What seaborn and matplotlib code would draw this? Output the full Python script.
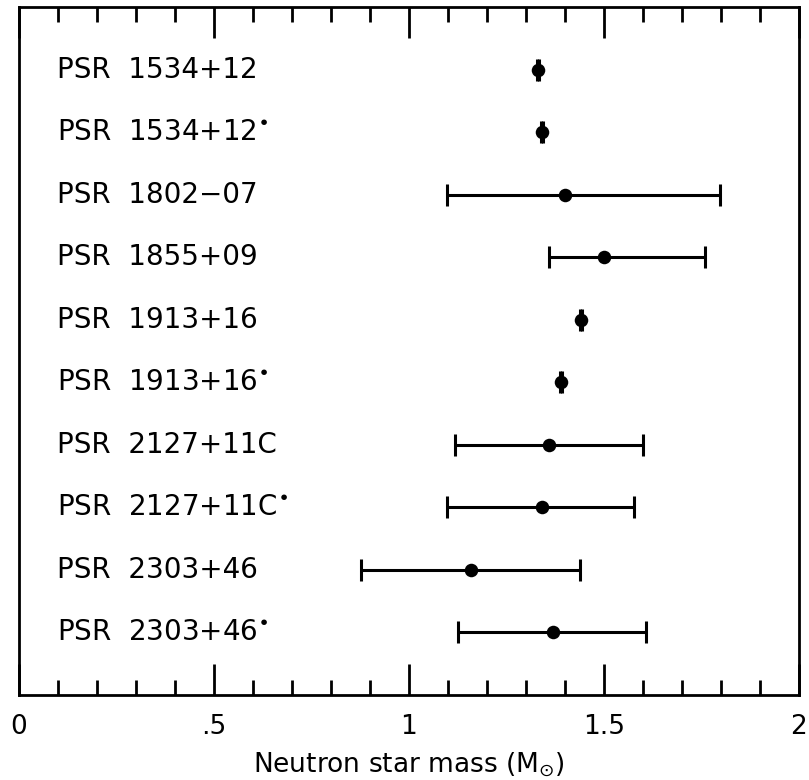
import numpy as np
import pandas as pd
import matplotlib
matplotlib.use("Agg")
import matplotlib.pyplot as plt
import seaborn as sns
from matplotlib.ticker import MultipleLocator, FixedLocator

# Datos
pulsar = ["1534+12", "1534+12", "1802\u221207", "1855+09", "1913+16",
          "1913+16", "2127+11C", "2127+11C", "2303+46", "2303+46"]
starred = [False, True, False, False, False, True, False, True, False, True]
mass = [1.331, 1.341, 1.40, 1.50, 1.441, 1.390, 1.359, 1.341, 1.159, 1.369]
mass_lo = [1.329, 1.339, 1.097, 1.36, 1.439, 1.388, 1.118, 1.097, 0.877, 1.126]
mass_hi = [1.333, 1.343, 1.797, 1.76, 1.443, 1.392, 1.600, 1.577, 1.438, 1.608]

tick_vals = [0, 0.5, 1, 1.5, 2]
tick_labels = ["0", ".5", "1", "1.5", "2"]

df = pd.DataFrame({
    "name": [f"PSR  {p}" + ("$^{\\bullet}$" if s else "") for p, s in zip(pulsar, starred)],
    "mass": mass,
    "lo": mass_lo,
    "hi": mass_hi,
})
df["row"] = np.arange(len(df))

sns.set_style("ticks")
plt.rcParams["font.family"] = ["DejaVu Sans"]
plt.rcParams["mathtext.fontset"] = "dejavusans"
for k in ["text.color", "axes.labelcolor", "xtick.color", "ytick.color", "axes.edgecolor"]:
    plt.rcParams[k] = "black"

fig = plt.figure(figsize=(8.09, 7.80), dpi=100)
ax = fig.add_axes([0.0235, 0.109, 0.964, 0.882])

xerr = np.vstack([df["mass"] - df["lo"], df["hi"] - df["mass"]])
ax.errorbar(df["mass"], df["row"], xerr=xerr, fmt="none", ecolor="black",
            elinewidth=2.2, capsize=8, capthick=2.2, zorder=2)
sns.scatterplot(data=df, x="mass", y="row", ax=ax, color="black", s=95,
                edgecolor="black", linewidth=0, zorder=3, legend=False)

for _, r in df.iterrows():
    ax.text(0.097, r["row"], r["name"], ha="left", va="center",
            fontsize=20, color="black")

ax.set_xlim(0, 2)
ax.set_ylim(10, -1)
ax.set_yticks([])
ax.set_ylabel("")
ax.xaxis.set_major_locator(FixedLocator(tick_vals))
ax.set_xticklabels(tick_labels)
ax.xaxis.set_minor_locator(MultipleLocator(0.1))
ax.tick_params(axis="x", which="both", direction="in", top=True, bottom=True,
               width=2, labelsize=19, pad=14, colors="black")
ax.tick_params(axis="x", which="major", length=22)
ax.tick_params(axis="x", which="minor", length=11)
ax.set_xlabel("Neutron star mass (M$_{\\odot}$)", fontsize=19, labelpad=7)

for sp in ax.spines.values():
    sp.set_linewidth(2)
    sp.set_color("black")
    sp.set_visible(True)

fig.savefig("out.png", dpi=100)
